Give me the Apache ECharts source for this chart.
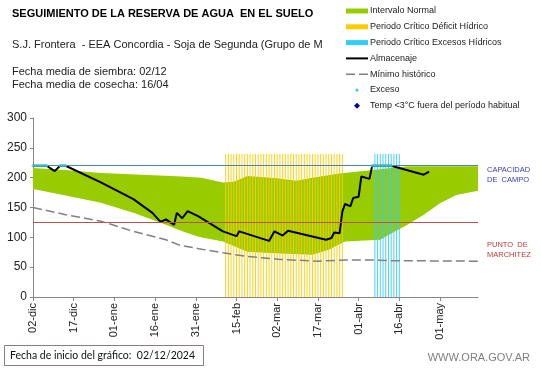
<!DOCTYPE html>
<html><head><meta charset="utf-8">
<script src="https://cdn.jsdelivr.net/npm/echarts@6/dist/echarts.min.js"></script>
<style>html,body{margin:0;padding:0;background:#fff}#c{width:541px;height:368px}</style>
</head><body><div id="c"></div>
<script>
// ---- data (day 0 = 02-dic-2024) ----
const tickDays = [0, 15, 30, 45, 60, 75, 90, 105, 120, 135, 150];
const tickLabels = ['02-dic','17-dic','01-ene','16-ene','31-ene','15-feb','02-mar','17-mar','01-abr','16-abr','01-may'];

const bandUpper = [[0,216],[12,213],[25,208],[40,205],[55,202],[62,200],[70,192],[74,193],[79,203],[90,199],[97,195],[103,200],[113,207],[119,210],[125,213],[138,219],[164,219]];
const bandLower = [[0,181],[12,170],[25,158],[37,141],[49,121],[55,110],[61,101],[70,93],[79,76],[91,73],[103,71],[109,79],[115,93],[128,96],[131,104],[138,121],[144,138],[150,157],[156,171],[164,178]];

const minimoHistorico = [[0,150],[12,138],[25,127],[37,110],[49,96],[54,87],[61,81],[70,74],[79,68],[91,63],[105,60],[115,62],[125,62],[130,61],[164,60]];

const almacenaje = [[0,220],[5,220],[8,211],[10,220],[12,220],[25,192],[37,164],[44,141],[47,126],[49,130],[52,121],[53,141],[55,132],[57,144],[61,135],[70,110],[75,102],[76,110],[87,94],[89,110],[92,103],[94,111],[108,96],[110,99],[111,108],[113,107],[114,143],[115,156],[117,152],[118,166],[120,168],[121,202],[124,198],[125,220],[132,220],[144,205],[146,210]];

const exceso = [[0,220],[1,220],[2,220],[3,220],[4,220],[5,220],[10,220],[11,220],[12,220],[125,220],[126,220],[127,220],[128,220],[129,220],[130,220],[131,220],[132,220]];
const tempBaja = [];

const periodoDeficit = [71, 114, 240];
const periodoExceso = [126, 135, 240];

const capacidadCampo = 220;
const puntoMarchitez = 125;

// ---- styles ----
const GREEN = '#99CC00', YELLOW = '#FFCC00', CYAN = '#33CCFF', DOT = '#33CCCC';
const FONT = '"Liberation Sans", Arial, sans-serif';

function hatch(color) {
  return function (params, api) {
    const s = api.value(0), e = api.value(1), top = api.value(2);
    const children = [];
    for (let d = s; d <= e; d++) {
      const a = api.coord([d, top]), b = api.coord([d, 0]);
      children.push({type: 'line', shape: {x1: a[0], y1: a[1], x2: a[0], y2: b[1]},
        style: {stroke: color, lineWidth: 1, opacity: 0.9}});
    }
    return {type: 'group', children};
  };
}

const chart = echarts.init(document.getElementById('c'), null, {renderer: 'canvas'});

const legendItems = [
  {name: 'Intervalo Normal', kind: 'rect', color: GREEN},
  {name: 'Periodo Crítico Déficit Hídrico', kind: 'rect', color: YELLOW},
  {name: 'Periodo Crítico Excesos Hídricos', kind: 'rect', color: CYAN},
  {name: 'Almacenaje', kind: 'line', color: '#000'},
  {name: 'Mínimo histórico', kind: 'dash', color: '#808080'},
  {name: 'Exceso', kind: 'dot', color: DOT},
  {name: 'Temp <3°C fuera del período habitual', kind: 'diamond', color: '#000099'}
];
const legendGraphics = [];
legendItems.forEach((it, i) => {
  const y = 11 + i * 15.8;
  if (it.kind === 'rect') legendGraphics.push({type: 'rect', shape: {x: 346, y: y - 2.5, width: 22, height: 5}, style: {fill: it.color}});
  if (it.kind === 'line') legendGraphics.push({type: 'line', shape: {x1: 346, y1: y, x2: 368, y2: y}, style: {stroke: it.color, lineWidth: 2}});
  if (it.kind === 'dash') legendGraphics.push({type: 'line', shape: {x1: 346, y1: y, x2: 368, y2: y}, style: {stroke: it.color, lineWidth: 1.5, lineDash: [9, 4]}});
  if (it.kind === 'dot') legendGraphics.push({type: 'circle', shape: {cx: 357, cy: y, r: 1.5}, style: {fill: it.color}});
  if (it.kind === 'diamond') legendGraphics.push({type: 'polygon', shape: {points: [[357, y - 3], [360, y], [357, y + 3], [354, y]]}, style: {fill: it.color}});
  legendGraphics.push({type: 'text', x: 370, y: y, style: {text: it.name, font: '9px ' + FONT, fill: '#222', textVerticalAlign: 'middle'}});
});

const option = {
  animation: false,
  backgroundColor: '#fff',
  grid: {left: 33, right: 63, top: 118, bottom: 71, containLabel: false, outerBoundsMode: 'none'},
  xAxis: {
    type: 'value', min: 0, max: 164, interval: 15,
    axisLine: {show: true, lineStyle: {color: '#868686'}},
    axisTick: {show: true, length: 4, customValues: tickDays, lineStyle: {color: '#868686'}},
    axisLabel: {customValues: tickDays, rotate: 90, fontSize: 11, fontFamily: FONT, color: '#222', margin: 6,
      formatter: v => tickLabels[tickDays.indexOf(v)] || ''},
    splitLine: {show: false}
  },
  yAxis: {
    type: 'value', min: 0, max: 300, interval: 50,
    name: 'Milímetros', nameLocation: 'middle', nameRotate: 90, nameGap: 26,
    nameTextStyle: {fontSize: 8, fontFamily: FONT, color: '#222'},
    axisLine: {show: true, lineStyle: {color: '#868686'}},
    axisTick: {show: true, length: 3, lineStyle: {color: '#868686'}},
    axisLabel: {fontSize: 12, fontFamily: FONT, color: '#222', margin: 6},
    splitLine: {show: false}
  },
  series: [
    {type: 'custom', name: 'Intervalo Normal', z: 1, data: [[0, 0]], silent: true,
      renderItem: (params, api) => ({type: 'polygon',
        shape: {points: bandUpper.map(p => api.coord(p)).concat(bandLower.slice().reverse().map(p => api.coord(p)))},
        style: {fill: GREEN}})},
    {type: 'custom', name: 'Periodo Crítico Déficit Hídrico', z: 2, data: [periodoDeficit], renderItem: hatch(YELLOW)},
    {type: 'custom', name: 'Periodo Crítico Excesos Hídricos', z: 2, data: [periodoExceso], renderItem: hatch(CYAN)},
    {type: 'line', name: 'Mínimo histórico', z: 3, data: minimoHistorico, showSymbol: false, symbol: 'none',
      lineStyle: {color: '#808080', width: 1.5, type: [9, 4]},
      markLine: {silent: true, symbol: 'none', label: {show: false}, animation: false,
        data: [
          {yAxis: capacidadCampo, lineStyle: {color: '#4F81BD', width: 1, type: 'solid'}},
          {yAxis: puntoMarchitez, lineStyle: {color: '#C0504D', width: 1, type: 'solid'}}
        ]}},
    {type: 'line', name: 'Almacenaje', z: 4, data: almacenaje, showSymbol: false, symbol: 'none',
      lineStyle: {color: '#000', width: 2}},
    {type: 'scatter', name: 'Exceso', z: 5, data: exceso, symbol: 'circle', symbolSize: 3,
      itemStyle: {color: DOT}},
    {type: 'scatter', name: 'Temp <3°C fuera del período habitual', z: 5, data: tempBaja, symbol: 'diamond', symbolSize: 6,
      itemStyle: {color: '#000099'}}
  ],
  graphic: [
    {type: 'text', x: 12, y: 14, style: {text: 'SEGUIMIENTO DE LA RESERVA DE AGUA  EN EL SUELO', font: 'bold 11px ' + FONT, fill: '#000', textVerticalAlign: 'middle'}},
    {type: 'text', x: 12, y: 45, style: {text: 'S.J. Frontera  - EEA Concordia - Soja de Segunda (Grupo de M', font: '11px ' + FONT, fill: '#222', textVerticalAlign: 'middle'}},
    {type: 'text', x: 12, y: 72, style: {text: 'Fecha media de siembra: 02/12', font: '11px ' + FONT, fill: '#222', textVerticalAlign: 'middle'}},
    {type: 'text', x: 12, y: 85, style: {text: 'Fecha media de cosecha: 16/04', font: '11px ' + FONT, fill: '#222', textVerticalAlign: 'middle'}},
    {type: 'text', x: 487, y: 175, style: {text: 'CAPACIDAD\nDE  CAMPO', font: '7.5px ' + FONT, fill: '#3A3AB8', lineHeight: 9.5, textVerticalAlign: 'middle'}},
    {type: 'text', x: 487, y: 250, style: {text: 'PUNTO  DE\nMARCHITEZ', font: '7.5px ' + FONT, fill: '#B83A3A', lineHeight: 9.5, textVerticalAlign: 'middle'}},
    {type: 'rect', shape: {x: 4.5, y: 345.5, width: 199, height: 20}, style: {fill: '#fff', stroke: '#8B7D7D', lineWidth: 1}},
    {type: 'text', x: 10, y: 356, style: {text: 'Fecha de inicio del gráfico:  02/12/2024', font: '10.5px Lato, sans-serif', fill: '#111', textVerticalAlign: 'middle'}},
    {type: 'text', x: 530, y: 358, style: {text: 'WWW.ORA.GOV.AR', font: '11px ' + FONT, fill: '#7F7F7F', textAlign: 'right', textVerticalAlign: 'middle'}}
  ].concat(legendGraphics)
};
chart.setOption(option);
</script></body></html>
